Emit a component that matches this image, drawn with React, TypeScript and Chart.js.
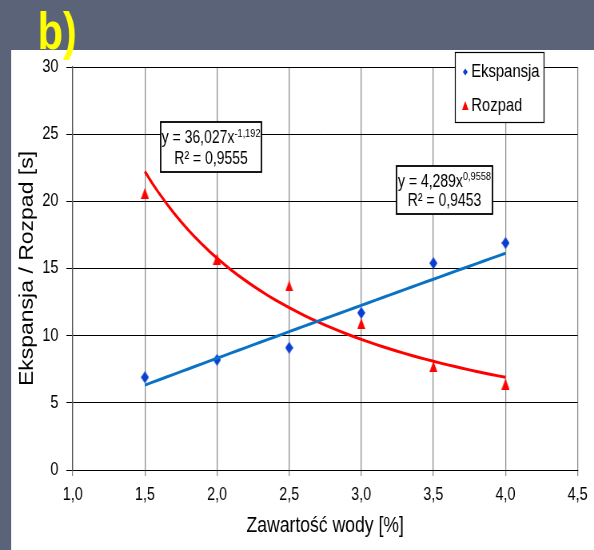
import React, { useEffect, useRef } from "react";
import { Chart, registerables } from "chart.js";

Chart.register(...registerables);

// Measured values
const waterContent = [1.5, 2.0, 2.5, 3.0, 3.5, 4.0];
const ekspansja = [6.9, 8.2, 9.1, 11.7, 15.4, 16.9];
const rozpad = [20.6, 15.7, 13.7, 10.9, 7.7, 6.4];

// Power trendlines y = a * x^b with their R²
const ekspansjaFit = { a: 4.289, b: 0.9558, r2: 0.9453 };
const rozpadFit = { a: 36.027, b: -1.192, r2: 0.9555 };

const xMin = 1.0;
const xMax = 4.5;
const xStep = 0.5;
const yMin = 0;
const yMax = 30;
const yStep = 5;

// The drawing is laid out on a wider canvas and squeezed horizontally
// to the page width, which gives the condensed lettering.
const PAGE_W = 594;
const PAGE_H = 550;
const CANVAS_W = 743;
const SQUEEZE = PAGE_W / CANVAS_W;

const FONT = "'Liberation Sans', Arial, sans-serif";

const BLUE_MARK = "#0b3fd2";
const BLUE_LINE = "#0a72c4";
const RED = "#ff0000";

const comma = (v: number) => String(v).replace(".", ",");

function trendPoints(fit: { a: number; b: number }, xs: number[]) {
  const from = Math.min(...xs);
  const to = Math.max(...xs);
  const n = 50;
  const pts: { x: number; y: number }[] = [];
  for (let i = 0; i <= n; i++) {
    const x = from + ((to - from) * i) / n;
    pts.push({ x, y: fit.a * Math.pow(x, fit.b) });
  }
  return pts;
}

function makeDiamond(w: number, h: number, color: string) {
  const c = document.createElement("canvas");
  c.width = w;
  c.height = h;
  const g = c.getContext("2d")!;
  g.fillStyle = color;
  g.beginPath();
  g.moveTo(w / 2, 0);
  g.lineTo(w, h / 2);
  g.lineTo(w / 2, h);
  g.lineTo(0, h / 2);
  g.closePath();
  g.fill();
  return c;
}

function makeTriangle(w: number, h: number, color: string) {
  const c = document.createElement("canvas");
  c.width = w;
  c.height = h;
  const g = c.getContext("2d")!;
  g.fillStyle = color;
  g.beginPath();
  g.moveTo(w / 2, 0);
  g.lineTo(w, h);
  g.lineTo(0, h);
  g.closePath();
  g.fill();
  return c;
}

function drawEquationBox(
  ctx: CanvasRenderingContext2D,
  left: number,
  top: number,
  w: number,
  h: number,
  fit: { a: number; b: number; r2: number }
) {
  ctx.save();
  ctx.fillStyle = "#ffffff";
  ctx.fillRect(left, top, w, h);
  ctx.strokeStyle = "#000000";
  ctx.lineWidth = 1.8;
  ctx.strokeRect(left, top, w, h);

  const cx = left + w / 2;
  const main = `y = ${comma(fit.a)}x`;
  const sup = comma(fit.b);
  ctx.fillStyle = "#000000";
  ctx.textBaseline = "middle";
  ctx.font = `17.5px ${FONT}`;
  const wMain = ctx.measureText(main).width;
  ctx.font = `11.5px ${FONT}`;
  const wSup = ctx.measureText(sup).width;
  const x0 = cx - (wMain + wSup) / 2;
  const y1 = top + h * 0.33;
  ctx.font = `17.5px ${FONT}`;
  ctx.textAlign = "left";
  ctx.fillText(main, x0, y1);
  ctx.font = `11.5px ${FONT}`;
  ctx.fillText(sup, x0 + wMain, y1 - 5);

  ctx.font = `17.5px ${FONT}`;
  ctx.textAlign = "center";
  ctx.fillText(`R² = ${comma(fit.r2)}`, cx, top + h * 0.74);
  ctx.restore();
}

const framePlugin = {
  id: "frame",
  beforeDraw(chart: any) {
    const ctx = chart.ctx as CanvasRenderingContext2D;
    ctx.save();
    ctx.fillStyle = "#5b6378";
    ctx.fillRect(0, 0, chart.width, chart.height);
    ctx.fillStyle = "#ffffff";
    ctx.fillRect(14, 50, chart.width - 14, chart.height - 50);
    ctx.restore();
  },
  afterDraw(chart: any) {
    const ctx = chart.ctx as CanvasRenderingContext2D;
    const area = chart.chartArea;

    // legend
    const lx = area.right - 153;
    const ly = area.top - 15;
    const lw = 111;
    const lh = 70;
    ctx.save();
    ctx.fillStyle = "#ffffff";
    ctx.fillRect(lx, ly, lw, lh);
    ctx.strokeStyle = "#000000";
    ctx.lineWidth = 1.2;
    ctx.strokeRect(lx, ly + 0.5, lw, lh);

    ctx.fillStyle = BLUE_MARK;
    ctx.beginPath();
    ctx.moveTo(lx + 12.5, ly + 16.5);
    ctx.lineTo(lx + 15.5, ly + 20);
    ctx.lineTo(lx + 12.5, ly + 23.5);
    ctx.lineTo(lx + 9.5, ly + 20);
    ctx.closePath();
    ctx.fill();

    ctx.fillStyle = RED;
    ctx.beginPath();
    ctx.moveTo(lx + 12.5, ly + 49);
    ctx.lineTo(lx + 16.5, ly + 58);
    ctx.lineTo(lx + 8.5, ly + 58);
    ctx.closePath();
    ctx.fill();

    ctx.fillStyle = "#000000";
    ctx.font = `18.5px ${FONT}`;
    ctx.textBaseline = "middle";
    ctx.textAlign = "left";
    ctx.fillText("Ekspansja", lx + 20, ly + 20);
    ctx.fillText("Rozpad", lx + 20, ly + 54);
    ctx.restore();

    // trendline equations
    drawEquationBox(ctx, area.left + 110, area.top + 55, 126, 50, rozpadFit);
    drawEquationBox(ctx, area.left + 405, area.top + 99, 120, 48, ekspansjaFit);

    // panel label
    ctx.save();
    ctx.fillStyle = "#ffff00";
    ctx.font = `bold 52px ${FONT}`;
    ctx.textBaseline = "alphabetic";
    ctx.textAlign = "left";
    ctx.fillText("b)", 47, 49);
    ctx.restore();
  },
};

export default function App() {
  const ref = useRef<HTMLCanvasElement | null>(null);

  useEffect(() => {
    if (!ref.current) return;
    const diamond = makeDiamond(10, 12, BLUE_MARK);
    const triangle = makeTriangle(10, 11, RED);

    const chart = new Chart(ref.current, {
      type: "scatter",
      data: {
        datasets: [
          {
            label: "Ekspansja trend",
            data: trendPoints(ekspansjaFit, waterContent),
            showLine: true,
            borderColor: BLUE_LINE,
            borderWidth: 3,
            pointRadius: 0,
            order: 1,
          },
          {
            label: "Rozpad trend",
            data: trendPoints(rozpadFit, waterContent),
            showLine: true,
            borderColor: RED,
            borderWidth: 3,
            pointRadius: 0,
            order: 1,
          },
          {
            label: "Ekspansja",
            data: waterContent.map((x, i) => ({ x, y: ekspansja[i] })),
            pointStyle: diamond as any,
            pointRadius: 6,
            order: 2,
          },
          {
            label: "Rozpad",
            data: waterContent.map((x, i) => ({ x, y: rozpad[i] })),
            pointStyle: triangle as any,
            pointRadius: 6,
            order: 2,
          },
        ],
      },
      options: {
        animation: false,
        responsive: false,
        events: [],
        layout: { padding: { left: 0, top: 67, right: 19, bottom: 0 } },
        plugins: {
          legend: { display: false },
          tooltip: { enabled: false },
        },
        scales: {
          x: {
            type: "linear",
            min: xMin,
            max: xMax,
            afterFit: (s: any) => {
              s.height = 80;
            },
            ticks: {
              stepSize: xStep,
              autoSkip: false,
              maxRotation: 0,
              padding: 8,
              color: "#000000",
              font: { family: FONT, size: 18 },
              callback: (v: any) => Number(v).toFixed(1).replace(".", ","),
            },
            grid: { color: "#8a8a8a", lineWidth: 1.25, tickLength: 6 },
            border: { color: "#000000", width: 1 },
            title: {
              display: true,
              text: "Zawartość wody [%]",
              color: "#000000",
              font: { family: FONT, size: 22 },
              padding: { top: 0, bottom: 11 },
            },
          },
          y: {
            min: yMin,
            max: yMax,
            afterFit: (s: any) => {
              s.width = 91;
            },
            ticks: {
              stepSize: yStep,
              padding: 10,
              color: "#000000",
              font: { family: FONT, size: 18 },
            },
            grid: { color: "#000000", lineWidth: 1, tickLength: 8 },
            border: { color: "#555555", width: 1.25 },
            title: {
              display: true,
              text: "Ekspansja / Rozpad [s]",
              color: "#000000",
              font: { family: FONT, size: 23 },
              padding: { top: 21, bottom: 0 },
            },
          },
        },
      },
      plugins: [framePlugin],
    });
    return () => chart.destroy();
  }, []);

  return (
    <div
      style={{
        position: "absolute",
        left: 0,
        top: 0,
        width: PAGE_W,
        height: PAGE_H,
        overflow: "hidden",
      }}
    >
      <canvas
        ref={ref}
        width={CANVAS_W}
        height={PAGE_H}
        style={{
          display: "block",
          transform: `scaleX(${SQUEEZE})`,
          transformOrigin: "0 0",
        }}
      />
    </div>
  );
}
